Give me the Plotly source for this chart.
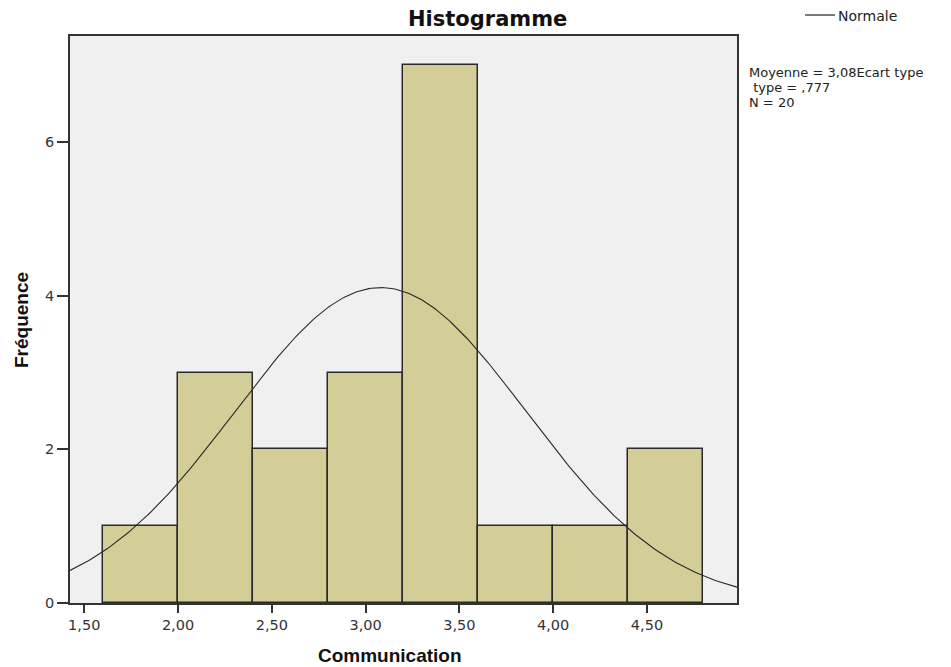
import numpy as np
import plotly.graph_objects as go

# Data
bin_edges = [1.6, 2.0, 2.4, 2.8, 3.2, 3.6, 4.0, 4.4, 4.8]
counts = [1, 3, 2, 3, 7, 1, 1, 2]
mean_val = 3.08
sd_val = 0.777
n_val = 20
x_tickvals = [1.5, 2.0, 2.5, 3.0, 3.5, 4.0, 4.5]
x_ticktext = ["1,50", "2,00", "2,50", "3,00", "3,50", "4,00", "4,50"]
y_tickvals = [0, 2, 4, 6]
x_range = [1.424, 4.98]
y_range = [0, 7.384]
stats_lines = ["Moyenne = 3,08Ecart type", " type = ,777", "N = 20"]

centers = [(a + b) / 2 for a, b in zip(bin_edges[:-1], bin_edges[1:])]
widths = [b - a for a, b in zip(bin_edges[:-1], bin_edges[1:])]
bw = widths[0]

# normal curve from the stated parameters
xs = np.linspace(x_range[0], x_range[1], 300)
ys = n_val * bw / (sd_val * np.sqrt(2 * np.pi)) * np.exp(-0.5 * ((xs - mean_val) / sd_val) ** 2)

fig = go.Figure()
fig.add_trace(go.Bar(x=centers, y=counts, width=widths,
                     marker=dict(color="#d3ce97", line=dict(color="#2a2a2a", width=1.5)),
                     showlegend=False, hoverinfo="skip"))
fig.add_trace(go.Scatter(x=xs, y=ys, mode="lines",
                         line=dict(color="#2a2a2a", width=1.1), showlegend=False))

W, H = 951, 667
OFF = 8  # page body margin
L = 70 - OFF
T = 36 - OFF
R = W - (737 - OFF)
B = H - (603 - OFF)
pw = W - L - R
ph = H - T - B

def px_x(p):
    return (p - OFF - L) / pw

def px_y(p):
    return 1 - (p - OFF - T) / ph

dv = "DejaVu Sans, Verdana, sans-serif"
lib = "Liberation Sans, Arial, sans-serif"

annotations = [
    dict(text="<b>Histogramme</b>", xref="paper", yref="paper",
         x=px_x(487), y=px_y(19), xanchor="center", yanchor="middle",
         showarrow=False, font=dict(family=dv, size=21, color="#111111")),
    dict(text="<b>Communication</b>", xref="paper", yref="paper",
         x=px_x(390), y=px_y(655), xanchor="center", yanchor="middle",
         showarrow=False, font=dict(family=lib, size=19, color="#111111")),
    dict(text="<b>Fréquence</b>", xref="paper", yref="paper",
         x=px_x(21), y=px_y(320), xanchor="center", yanchor="middle",
         textangle=-90, showarrow=False, font=dict(family=lib, size=19, color="#111111")),
    dict(text="Normale", xref="paper", yref="paper",
         x=px_x(836), y=px_y(16), xanchor="left", yanchor="middle",
         showarrow=False, font=dict(family=dv, size=14, color="#222222")),
]
for i, line in enumerate(stats_lines):
    annotations.append(dict(text=line.replace(" ", "&nbsp;") if line.startswith(" ") else line,
                            xref="paper", yref="paper",
                            x=px_x(747), y=px_y(72 + 15 * i),
                            xanchor="left", yanchor="middle", showarrow=False,
                            font=dict(family=dv, size=13, color="#222222")))

fig.update_layout(
    width=W, height=H,
    margin=dict(l=L, r=R, t=T, b=B),
    paper_bgcolor="white", plot_bgcolor="#f0f0f0",
    font=dict(family=dv, size=14, color="#222222"),
    bargap=0,
    xaxis=dict(range=x_range, tickvals=x_tickvals, ticktext=x_ticktext,
               showgrid=False, zeroline=False, showline=True, linecolor="#333333",
               linewidth=1.8, mirror=True, ticks="outside", ticklen=8, tickwidth=1.5,
               tickcolor="#333333", tickfont=dict(family=dv, size=14.5, color="#333333")),
    yaxis=dict(range=y_range, tickvals=y_tickvals,
               showgrid=False, zeroline=False, showline=True, linecolor="#333333",
               linewidth=1.8, mirror=True, ticks="outside", ticklen=11, tickwidth=1.5,
               tickcolor="#333333", tickfont=dict(family=dv, size=14.5, color="#333333")),
    shapes=[dict(type="line", xref="paper", yref="paper",
                 x0=px_x(805), x1=px_x(835), y0=px_y(15), y1=px_y(15),
                 line=dict(color="#222222", width=1.2))],
    annotations=annotations,
)

fig.write_html("out.html")
